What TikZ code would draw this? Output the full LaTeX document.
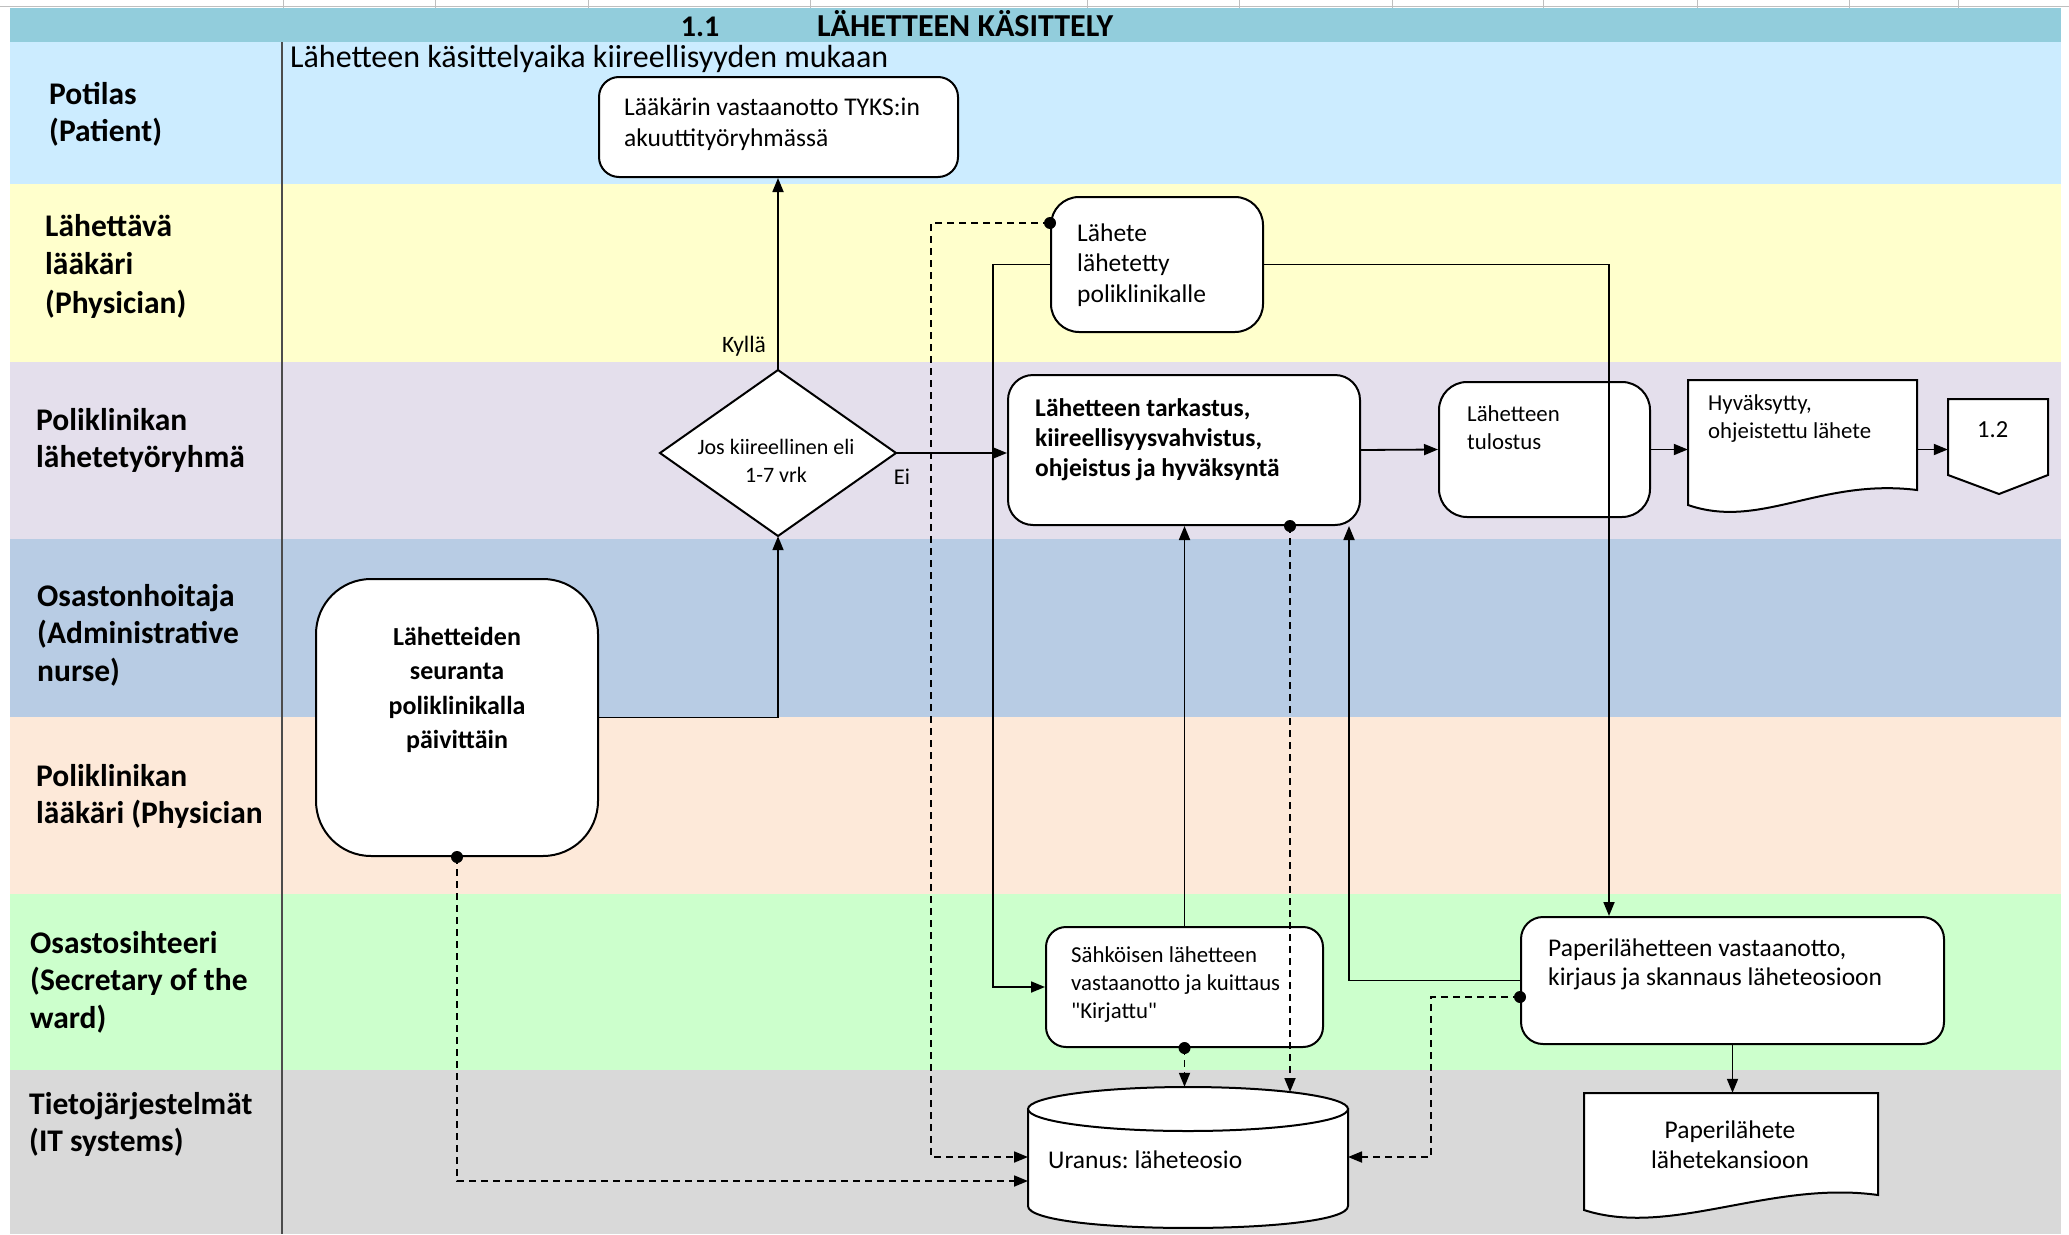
\documentclass[tikz,border=0pt]{standalone}
\usepackage{fontspec}
\setmainfont{Carlito}[Ligatures=TeXOff]
\usetikzlibrary{arrows.meta,calc}
\frenchspacing

\definecolor{cTitle}{HTML}{92CDDC}
\definecolor{cPat}{HTML}{CCECFF}
\definecolor{cPhy}{HTML}{FFFFCC}
\definecolor{cTeam}{HTML}{E4DFEC}
\definecolor{cNurse}{HTML}{B8CCE4}
\definecolor{cDoc}{HTML}{FDE9D9}
\definecolor{cSec}{HTML}{CCFFCC}
\definecolor{cIT}{HTML}{D9D9D9}

\begin{document}
\begin{tikzpicture}[x=1pt,y=-1pt,
  proc/.style={draw=black, line width=2pt, fill=white, inner sep=0pt},
  shapeline/.style={draw=black, line width=2pt, fill=white},
  lbl/.style={font=\fontsize{31.5}{37.5}\selectfont\bfseries, align=left, anchor=west, inner sep=0pt},
  txt/.style={font=\fontsize{25.5}{30.5}\selectfont, align=left, anchor=west, inner sep=0pt},
  smalltxt/.style={font=\fontsize{22.8}{28}\selectfont, align=left, anchor=west, inner sep=0pt},
  boldtxt/.style={font=\fontsize{25.5}{30}\selectfont\bfseries, align=left, anchor=west, inner sep=0pt},
  flow/.style={line width=1.8pt, -{Triangle[length=14pt,width=11pt]}},
  dflow/.style={flow, dash pattern=on 7pt off 5pt},
  dot/.style={circle, fill=black, inner sep=0pt, minimum size=12pt},
  anchorbox/.style={inner sep=0pt, draw=none}
]
\useasboundingbox (0,0) rectangle (2069,1234);
\fill[white] (0,0) rectangle (2069,1234);

% spreadsheet grid above the title band
\draw[black!25, line width=1pt] (0,6) -- (2069,6);
\foreach \gx in {283,435,588,810,1087,1239,1392,1543,1697,1849,1958}
  \draw[black!25, line width=1pt] (\gx,0) -- (\gx,8);

% swimlanes
\fill[cTitle] (10,8) rectangle (2061,42);
\fill[cPat]   (10,42) rectangle (2061,184);
\fill[cPhy]   (10,184) rectangle (2061,362);
\fill[cTeam]  (10,362) rectangle (2061,539);
\fill[cNurse] (10,539) rectangle (2061,717);
\fill[cDoc]   (10,717) rectangle (2061,894);
\fill[cSec]   (10,894) rectangle (2061,1070);
\fill[cIT]    (10,1070) rectangle (2061,1234);
\draw[black!70, line width=2.5pt] (282,42) -- (282,1234);

% title
\node[font=\fontsize{30}{34}\selectfont\bfseries, inner sep=0pt] (ttlnum) at (700,27) {1.1};
\node[font=\fontsize{32}{36}\selectfont\bfseries, inner sep=0pt, anchor=west] (ttl) at (817,24) {LÄHETTEEN KÄSITTELY};
\node[font=\fontsize{32}{38}\selectfont, inner sep=0pt, anchor=west] (note) at (290,59) {Lähetteen käsittelyaika kiireellisyyden mukaan};

% lane labels
\node[lbl] (l1) at (49,114.5) {Potilas\\(Patient)};
\node[lbl, font=\fontsize{31.5}{38.5}\selectfont\bfseries] (l2) at (45,266) {Lähettävä\\lääkäri\\(Physician)};
\node[lbl] (l3) at (36,440.5) {Poliklinikan\\lähetetyöryhmä};
\node[lbl] (l4) at (37,635) {Osastonhoitaja\\(Administrative\\nurse)};
\node[lbl] (l5) at (36,796.5) {Poliklinikan\\lääkäri (Physician};
\node[lbl] (l6) at (30,982) {Osastosihteeri\\(Secretary of the\\ward)};
\node[lbl] (l7) at (29,1124.5) {Tietojärjestelmät\\(IT systems)};

% process boxes
\node[proc, rounded corners=20pt, minimum width=359pt, minimum height=100pt] (laak) at (778.5,127) {};
\node[txt] (laakt) at (624,124) {Lääkärin vastaanotto TYKS:in\\akuuttityöryhmässä};

\node[proc, rounded corners=28pt, minimum width=212pt, minimum height=135pt] (lah) at (1157,264.5) {};
\node[txt] (laht) at (1077,265) {Lähete\\lähetetty\\poliklinikalle};

\node[proc, rounded corners=25pt, minimum width=352pt, minimum height=150pt] (tark) at (1184,450) {};
\node[boldtxt] (tarkt) at (1035,440) {Lähetteen tarkastus,\\kiireellisyysvahvistus,\\ohjeistus ja hyväksyntä};

\node[proc, rounded corners=28pt, minimum width=211pt, minimum height=135pt] (tul) at (1544.5,449.5) {};
\node[smalltxt] (tult) at (1467,428) {Lähetteen\\tulostus};

\node[proc, rounded corners=55pt, minimum width=282pt, minimum height=277pt] (seur) at (457,717.5) {};
\node[font=\fontsize{26}{34.5}\selectfont\bfseries, align=center, inner sep=0pt] (seurt) at (457,690) {Lähetteiden\\seuranta\\poliklinikalla\\päivittäin};

\node[proc, rounded corners=20pt, minimum width=277pt, minimum height=120pt] (sahk) at (1184.5,987) {};
\node[smalltxt] (sahkt) at (1071,985) {Sähköisen lähetteen\\vastaanotto ja kuittaus\\"Kirjattu"};

\node[proc, rounded corners=22pt, minimum width=423pt, minimum height=127pt] (pap) at (1732.5,980.5) {};
\node[font=\fontsize{25.5}{29}\selectfont, align=left, anchor=west, inner sep=0pt] (papt) at (1548,964.5) {Paperilähetteen vastaanotto,\\kirjaus ja skannaus läheteosioon};

% decision
\draw[shapeline] (660,453) -- (778,370) -- (896,453) -- (778,536) -- cycle;
\node[anchorbox, minimum width=236pt, minimum height=166pt] (dec) at (778,453) {};
\node[font=\fontsize{22}{28}\selectfont, align=center, inner sep=0pt] (dect) at (776,461) {Jos kiireellinen eli\\1-7 vrk};
\node[font=\fontsize{23.5}{28}\selectfont, inner sep=0pt] (yes) at (744,346) {Kyllä};
\node[font=\fontsize{22.5}{28}\selectfont, inner sep=0pt] (no) at (902,477) {Ei};

% approved referral document
\draw[shapeline] (1688,505) -- (1688,380) -- (1917,380) -- (1917,490)
  .. controls (1820,478) and (1760,530) .. (1688,505) -- cycle;
\node[anchorbox, minimum width=229pt, minimum height=110pt] (doc1) at (1802.5,435) {};
\node[smalltxt] (doc1t) at (1708,419) {Hyväksytty,\\ohjeistettu lähete};

% off-page connector
\draw[shapeline] (1948,399) -- (2048,399) -- (2048,475) -- (1999,494) -- (1948,475) -- cycle;
\node[anchorbox, minimum width=100pt, minimum height=95pt] (conn) at (1998,446.5) {};
\node[font=\fontsize{24.5}{29}\selectfont, anchor=west, inner sep=0pt] (connt) at (1977,430) {1.2};

% paper referral document
\draw[shapeline] (1584,1210) -- (1584,1093) -- (1878,1093) -- (1878,1195)
  .. controls (1770,1180) and (1670,1238) .. (1584,1210) -- cycle;
\node[anchorbox, minimum width=294pt, minimum height=102pt] (doc2) at (1731,1144) {};
\node[font=\fontsize{25.5}{30}\selectfont, align=center, inner sep=0pt] (doc2t) at (1730,1145) {Paperilähete\\lähetekansioon};

% database
\draw[shapeline] (1028,1109) -- (1028,1206)
  .. controls (1028,1235.3) and (1348,1235.3) .. (1348,1206) -- (1348,1109) -- cycle;
\draw[shapeline] (1188,1109) ellipse [x radius=160, y radius=22];
\node[anchorbox, minimum width=320pt, minimum height=141pt] (cyl) at (1188,1157.5) {};
\node[txt] (cylt) at (1048,1160) {Uranus: läheteosio};
\coordinate (cylL1) at (1028,1157);
\coordinate (cylL2) at (1028,1181);
\coordinate (cylR) at (1348,1157);
\coordinate (cylTopR) at (1290,1092);

% connection points on box outlines
\coordinate (lahDot) at ($(lah.north west)+(0,27)$);
\coordinate (tarkDot) at ($(tark.south east)+(-71,0)$);
\coordinate (tarkIn) at ($(tark.south east)+(-12,0)$);
\coordinate (papDot) at ($(pap.west)+(0,16.5)$);
\coordinate (papIn) at ($(pap.north west)+(89,0)$);

% solid flows
\draw[flow] (dec.north) -- (dec.north |- laak.south);
\draw[flow] (dec.east) -- (dec.east -| tark.west);
\draw[flow] (tark.east) -- (tul.west);
\draw[flow] (tul.east) -- (tul.east -| doc1.west);
\draw[flow] (tul.east -| doc1.east) -- (tul.east -| conn.west);
\draw[flow] (seur.east) -| (dec.south);
\draw[flow] (lah.west) -- ++(-57,0) |- (sahk.west);
\draw[flow] (lah.east) -| (papIn);
\draw[flow] (sahk.north) -- (sahk.north |- tark.south);
\draw[flow] (pap.west) -| (tarkIn);
\draw[flow] (pap.south) -- (pap.south |- doc2.north);

% dashed data flows
\draw[dflow] (seur.south) |- (cylL2);
\draw[dflow] (lahDot) -- ++(-119,0) |- (cylL1);
\draw[dflow] (tarkDot) -- (tarkDot |- cylTopR);
\draw[dflow] (sahk.south) -- (sahk.south |- cyl.north);
\draw[dflow] (papDot) -- ++(-89,0) |- (cylR);

% start dots
\node[dot] (d1) at (seur.south) {};
\node[dot] (d2) at (lahDot) {};
\node[dot] (d3) at (tarkDot) {};
\node[dot] (d4) at (sahk.south) {};
\node[dot] (d5) at (papDot) {};
\end{tikzpicture}
\end{document}
